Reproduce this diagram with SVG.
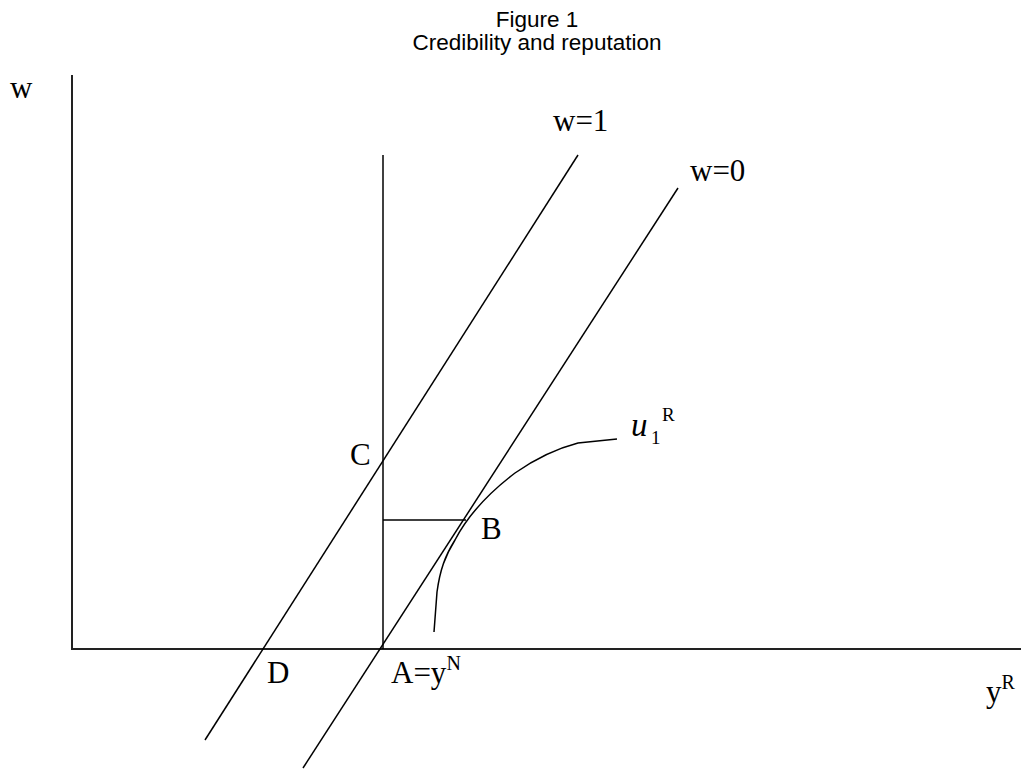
<svg xmlns="http://www.w3.org/2000/svg" width="1023" height="769" viewBox="0 0 1023 769">
<style>
.t{font-family:"Liberation Serif","Times New Roman",serif;font-size:31px;fill:#000}
.s{font-size:20px}
.sub{font-size:19px}
.u{font-size:33px;font-style:italic}
.h{font-family:"Liberation Sans",Arial,sans-serif;font-size:22.5px;fill:#000;text-anchor:middle}
.ax{stroke:#222;stroke-width:2;fill:none}
.ln{stroke:#000;stroke-width:1.5;fill:none}
</style>
<rect width="1023" height="769" fill="#fff"/>
<g id="title">
<text class="h" x="537" y="27">Figure 1</text>
<text class="h" x="537" y="50">Credibility and reputation</text>
</g>
<g id="axes">
<line class="ax" x1="72" y1="75" x2="72" y2="649"/>
<line class="ax" x1="71" y1="649" x2="1021" y2="649"/>
<text class="t" x="10" y="98">w</text>
<text class="t" x="986" y="702">y<tspan class="s" dy="-13">R</tspan></text>
</g>
<g id="connectors">
<line id="w1" class="ln" x1="205" y1="740" x2="578" y2="155"/>
<line id="w0" class="ln" x1="303" y1="768" x2="678" y2="188"/>
<line id="vert" class="ln" x1="383" y1="155" x2="383" y2="649"/>
<line id="horiz" class="ln" x1="383" y1="520" x2="466" y2="520"/>
<path id="u1R" class="ln" d="M434,632 L437,592 C440,570 445,556 455,540 C468,515 490,492 515,473 C535,459 555,449 578,443 L617,439"/>
</g>
<g id="labels">
<text class="t" x="553" y="131">w=1</text>
<text class="t" x="690" y="181">w=0</text>
<text class="t" x="350" y="465">C</text>
<text class="t" x="481" y="539">B</text>
<text class="t" x="267" y="683">D</text>
<text class="t" x="391" y="683">A=y<tspan class="s" dy="-13">N</tspan></text>
<text class="t u" x="631" y="436">u</text>
<text class="t sub" x="651" y="444">1</text>
<text class="t sub" x="662" y="421">R</text>
</g>
</svg>
